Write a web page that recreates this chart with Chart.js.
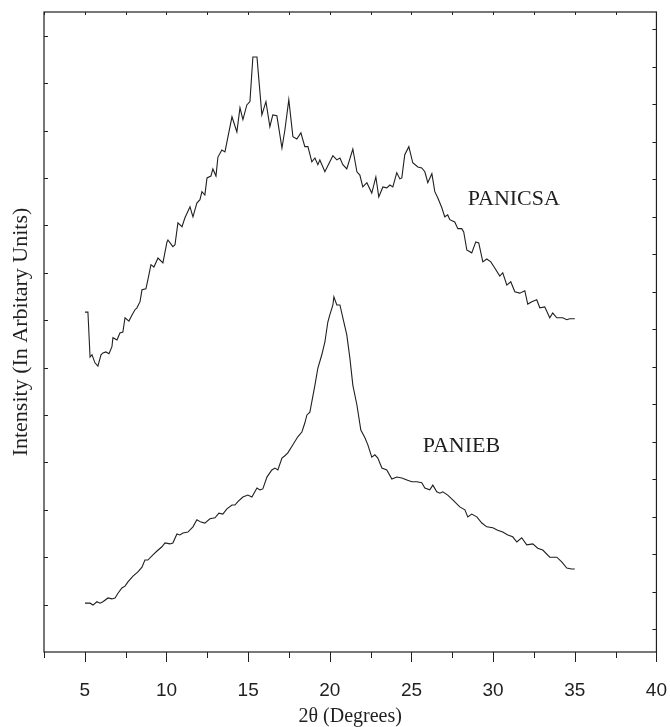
<!DOCTYPE html>
<html>
<head>
<meta charset="utf-8">
<script src="https://cdn.jsdelivr.net/npm/chart.js@4"></script>
<style>
  html, body { margin: 0; padding: 0; background: #fff; }
  #wrap { width: 670px; height: 727px; position: relative; }
</style>
</head>
<body>
<div id="wrap"><canvas id="xrd"></canvas></div>
<script>
// 2-theta angles (degrees) and intensities (arbitrary units)
const anglesCSA = [
  5.01, 5.19, 5.32, 5.44, 5.62, 5.80, 5.99, 6.11, 6.29, 6.48,
  6.66, 6.72, 6.97, 7.15, 7.33, 7.46, 7.70, 7.89, 8.07, 8.19,
  8.38, 8.50, 8.74, 8.86, 9.05, 9.23, 9.48, 9.78, 10.03, 10.09,
  10.39, 10.52, 10.70, 10.95, 11.13, 11.44, 11.62, 11.86, 12.05, 12.17,
  12.35, 12.48, 12.72, 12.84, 13.03, 13.15, 13.39, 13.58, 14.01, 14.31,
  14.50, 14.68, 14.92, 15.11, 15.29, 15.54, 15.84, 16.09, 16.33, 16.51,
  16.76, 17.07, 17.25, 17.49, 17.74, 17.98, 18.23, 18.47, 18.66, 18.90,
  19.09, 19.27, 19.39, 19.70, 20.00, 20.19, 20.43, 20.62, 20.80, 21.04,
  21.41, 21.66, 21.84, 22.02, 22.27, 22.57, 22.82, 23.00, 23.25, 23.49,
  23.68, 23.86, 24.10, 24.29, 24.41, 24.59, 24.84, 25.08, 25.39, 25.63,
  25.82, 26.00, 26.25, 26.43, 26.61, 26.86, 27.04, 27.22, 27.35, 27.65,
  27.84, 28.08, 28.20, 28.39, 28.69, 28.94, 29.12, 29.37, 29.61, 29.86,
  30.10, 30.41, 30.59, 30.84, 31.08, 31.33, 31.63, 31.94, 32.12, 32.37,
  32.67, 32.86, 33.16, 33.47, 33.65, 33.90, 34.26, 34.51, 34.69, 35.00
];
const intensityCSA = [
  717, 717, 622, 627, 610, 603, 627, 631, 633, 629,
  644, 663, 658, 673, 675, 705, 698, 711, 722, 726,
  739, 764, 766, 785, 817, 812, 831, 821, 865, 869,
  855, 859, 905, 897, 916, 939, 918, 947, 954, 971,
  964, 1000, 1004, 1019, 1004, 1044, 1059, 1055, 1129, 1097,
  1148, 1123, 1154, 1161, 1255, 1255, 1133, 1161, 1108, 1133,
  1131, 1063, 1101, 1165, 1087, 1082, 1095, 1066, 1066, 1034,
  1042, 1028, 1038, 1013, 1034, 1047, 1038, 1042, 1028, 1019,
  1061, 1013, 1006, 981, 990, 968, 1002, 960, 981, 979,
  985, 981, 1011, 998, 1000, 1049, 1066, 1032, 1023, 1021,
  1013, 990, 1009, 971, 958, 937, 918, 922, 912, 907,
  893, 893, 886, 848, 842, 865, 863, 823, 829, 823,
  810, 793, 800, 774, 781, 760, 757, 762, 734, 739,
  743, 726, 728, 705, 715, 705, 705, 701, 703, 703
];

const anglesEB = [
  5.01, 5.32, 5.50, 5.74, 5.93, 6.11, 6.42, 6.66, 6.85, 7.03,
  7.27, 7.46, 7.64, 7.95, 8.25, 8.50, 8.68, 8.86, 9.17, 9.42,
  9.72, 9.91, 10.21, 10.39, 10.64, 10.82, 11.01, 11.31, 11.62, 11.86,
  12.11, 12.35, 12.66, 12.97, 13.21, 13.45, 13.70, 14.01, 14.19, 14.37,
  14.68, 14.98, 15.23, 15.54, 15.72, 15.90, 16.15, 16.45, 16.64, 16.82,
  17.07, 17.25, 17.43, 17.74, 18.04, 18.29, 18.47, 18.60, 18.78, 18.90,
  19.09, 19.27, 19.51, 19.70, 19.88, 20.00, 20.19, 20.25, 20.43, 20.62,
  20.80, 21.04, 21.23, 21.41, 21.66, 21.90, 22.15, 22.33, 22.57, 22.76,
  22.94, 23.19, 23.49, 23.80, 24.10, 24.41, 24.72, 25.02, 25.33, 25.63,
  25.82, 26.12, 26.31, 26.55, 26.74, 26.92, 27.22, 27.53, 27.96, 28.27,
  28.45, 28.69, 29.00, 29.31, 29.61, 29.98, 30.28, 30.59, 30.90, 31.20,
  31.45, 31.75, 32.06, 32.43, 32.73, 33.04, 33.47, 33.90, 34.20, 34.51,
  34.81, 35.00
];
const intensityEB = [
  103, 103, 99, 106, 103, 106, 114, 112, 114, 124,
  135, 139, 148, 160, 169, 179, 194, 194, 205, 213,
  222, 230, 228, 230, 249, 247, 251, 253, 264, 279,
  274, 272, 281, 283, 293, 291, 302, 310, 310, 317,
  327, 331, 327, 346, 342, 344, 369, 384, 388, 384,
  409, 414, 420, 437, 454, 464, 483, 500, 506, 528,
  563, 599, 627, 654, 696, 711, 732, 749, 732, 732,
  705, 669, 620, 563, 521, 468, 452, 437, 411, 416,
  409, 388, 384, 365, 369, 367, 363, 359, 359, 357,
  346, 342, 352, 338, 335, 338, 331, 321, 306, 300,
  285, 291, 285, 272, 264, 262, 257, 253, 247, 243,
  232, 241, 226, 228, 219, 215, 200, 200, 190, 177,
  175, 175
];

// curve labels: [name, angle, intensity at text baseline]
const seriesLabels = [
  ["PANICSA", 28.45, 943],
  ["PANIEB", 25.69, 422]
];

const toPoints = (xs, ys) => xs.map((x, i) => ({ x: x, y: ys[i] }));

const serif = "'Liberation Serif', 'DejaVu Serif', serif";
const sans = "'Liberation Sans', Arial, sans-serif";
const ink = "#1f1f1f";

// frame, inward/outward tick marks and curve labels
const framePlugin = {
  id: "frame",
  afterDraw(chart) {
    const { ctx, chartArea: a, scales } = chart;
    const xs = scales.x, ys = scales.y;
    ctx.save();
    ctx.strokeStyle = ink;
    ctx.lineWidth = 1.2;
    ctx.strokeRect(a.left, a.top, a.right - a.left, a.bottom - a.top);

    ctx.lineWidth = 1;
    ctx.beginPath();
    for (let v = 2.5; v <= 40.001; v += 2.5) {
      const px = Math.round(xs.getPixelForValue(v)) + 0.5;
      const major = Math.abs(v % 5) < 1e-6;
      ctx.moveTo(px, a.bottom);
      ctx.lineTo(px, a.bottom + (major ? 10 : 6));
      ctx.moveTo(px, a.top);
      ctx.lineTo(px, a.top + 3);
    }
    // left side: small inward ticks every 100 units
    for (let v = 100; v <= 1300; v += 100) {
      const py = Math.round(ys.getPixelForValue(v)) + 0.5;
      ctx.moveTo(a.left, py);
      ctx.lineTo(a.left + 4, py);
    }
    // right side uses a finer spacing in the original
    for (let v = 48.5; v <= 1350; v += 79.1) {
      const py = Math.round(ys.getPixelForValue(v)) + 0.5;
      ctx.moveTo(a.right, py);
      ctx.lineTo(a.right - 4, py);
    }
    ctx.stroke();

    ctx.fillStyle = ink;
    ctx.font = "22px " + serif;
    ctx.textBaseline = "alphabetic";
    ctx.textAlign = "left";
    seriesLabels.forEach(([name, x, y]) => {
      ctx.fillText(name, xs.getPixelForValue(x), ys.getPixelForValue(y));
    });
    ctx.restore();
  }
};

new Chart(document.getElementById("xrd"), {
  type: "line",
  data: {
    datasets: [
      {
        label: "PANICSA",
        data: toPoints(anglesCSA, intensityCSA),
        borderColor: ink,
        borderWidth: 1.1,
        pointRadius: 0,
        tension: 0,
        fill: false
      },
      {
        label: "PANIEB",
        data: toPoints(anglesEB, intensityEB),
        borderColor: ink,
        borderWidth: 1.1,
        pointRadius: 0,
        tension: 0,
        fill: false
      }
    ]
  },
  options: {
    responsive: true,
    maintainAspectRatio: false,
    animation: false,
    layout: { padding: { top: 12, right: 13, left: 0, bottom: 0 } },
    plugins: {
      legend: { display: false },
      tooltip: { enabled: false }
    },
    scales: {
      x: {
        type: "linear",
        min: 2.5,
        max: 40,
        // tick marks are drawn by the plugin; tickLength only spaces the labels
        grid: { display: false, drawTicks: true, tickLength: 24 },
        border: { display: false },
        afterFit: (scale) => { scale.height = 75; },
        ticks: {
          stepSize: 2.5,
          autoSkip: false,
          maxRotation: 0,
          padding: 3,
          color: ink,
          font: { family: sans, size: 19 },
          callback: (v) => (v % 5 === 0 ? String(v) : "")
        },
        title: {
          display: true,
          text: "2θ (Degrees)",
          color: ink,
          font: { family: serif, size: 20, lineHeight: 1 },
          padding: { top: 0, bottom: 0 }
        }
      },
      y: {
        type: "linear",
        min: 0,
        max: 1350,
        grid: { display: false, drawTicks: false },
        border: { display: false },
        afterFit: (scale) => { scale.width = 44; },
        ticks: { display: false, stepSize: 100 },
        title: {
          display: true,
          text: "Intensity (In Arbitary Units)",
          color: ink,
          font: { family: serif, size: 22 },
          padding: { top: 8, bottom: 0 }
        }
      }
    }
  },
  plugins: [framePlugin]
});
</script>
</body>
</html>
